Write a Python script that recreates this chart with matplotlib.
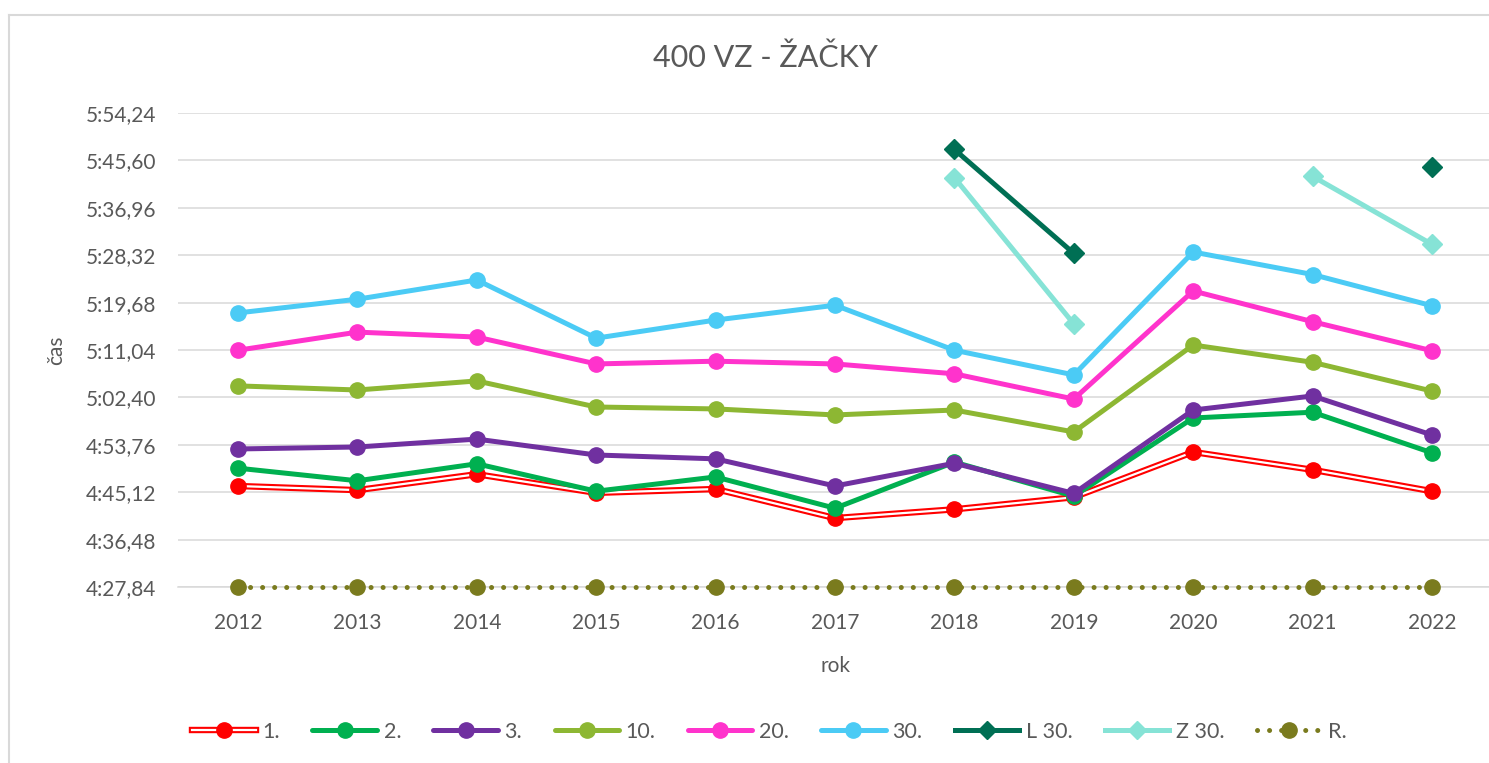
import matplotlib.pyplot as plt
from matplotlib.lines import Line2D
from matplotlib.legend_handler import HandlerTuple
import numpy as np

plt.rcParams['font.family'] = ['Lato', 'DejaVu Sans']

roky = ['2012', '2013', '2014', '2015', '2016', '2017', '2018', '2019', '2020', '2021', '2022']

# casy v sekundach
s1 = [286.25, 285.5, 288.4, 285.0, 285.7, 280.4, 282.0, 284.2, 292.45, 289.2, 285.3]
s2 = [289.5, 287.2, 290.3, 285.3, 287.9, 282.2, 290.6, 284.4, 298.65, 299.7, 292.3]
s3 = [293.0, 293.36, 294.8, 291.9, 291.2, 286.25, 290.4, 284.9, 300.1, 302.66, 295.55]
s10 = [304.5, 303.75, 305.4, 300.65, 300.3, 299.2, 300.1, 296.1, 311.95, 308.8, 303.55]
s20 = [311.0, 314.3, 313.4, 308.5, 309.0, 308.5, 306.7, 302.1, 321.8, 316.2, 310.9]
s30 = [317.8, 320.3, 323.8, 313.2, 316.5, 319.2, 311.0, 306.5, 328.9, 324.8, 319.1]
L30 = [np.nan, np.nan, np.nan, np.nan, np.nan, np.nan, 347.6, 328.65, np.nan, np.nan, 344.45]
Z30 = [np.nan, np.nan, np.nan, np.nan, np.nan, np.nan, 342.45, 315.8, np.nan, 342.7, 330.3]
R = [267.84, 267.84, 267.84, 267.84, 267.84, 267.84, 267.84, 267.84, 267.84, 267.84, 267.84]

y_ticky = [267.84, 276.48, 285.12, 293.76, 302.40, 311.04, 319.68, 328.32, 336.96, 345.60, 354.24]

sedy = '#595959'


def cas(v):
	m = int(v // 60)
	s = v - 60 * m
	return f'{m}:{s:05.2f}'.replace('.', ',')


fig = plt.figure(figsize=(14.89, 7.63), dpi=100)
ax = fig.add_axes([178.3 / 1489, 1 - 587 / 763, 1313.4 / 1489, 474 / 763])

x = np.arange(len(roky))
lw = 3.6
ms = 11

# 1. - dvojita cervena ciara
ax.plot(x, s1, color='#FF0000', lw=4.6, solid_capstyle='round', zorder=3)
ax.plot(x, s1, color='white', lw=1.6, solid_capstyle='round', zorder=3)
ax.plot(x, s1, 'o', color='#FF0000', ms=ms, zorder=3)

serie = [
	(s2, '#00B050', 'o'),
	(s3, '#7030A0', 'o'),
	(s10, '#8DB733', 'o'),
	(s20, '#FF33CC', 'o'),
	(s30, '#4BCBF5', 'o'),
]
for y, c, m in serie:
	ax.plot(x, y, color=c, lw=lw, marker=m, ms=ms, solid_capstyle='round', zorder=3)

ax.plot(x, L30, color='#006F54', lw=lw, marker='D', ms=10, zorder=3)
ax.plot(x, Z30, color='#86E3D6', lw=lw, marker='D', ms=10, zorder=3)
ax.plot(x, R, color='#7A7B1E', lw=lw, linestyle=(0, (0.01, 2.4)), dash_capstyle='round',
		marker='o', ms=11, zorder=3, clip_on=False)

ax.set_xlim(-0.5, len(roky) - 0.5)
ax.set_ylim(267.84, 354.24)
ax.set_yticks(y_ticky)
ax.set_yticklabels([cas(v) for v in y_ticky])
ax.set_xticks(x)
ax.set_xticklabels(roky)
ax.grid(axis='y', color='#D9D9D9', lw=1.1, zorder=0)
for s in ['top', 'right', 'left']:
	ax.spines[s].set_visible(False)
ax.spines['bottom'].set_color('#D9D9D9')
ax.spines['bottom'].set_linewidth(1.1)
ax.spines['bottom'].set_zorder(0)
ax.tick_params(axis='both', length=0, labelsize=15, labelcolor=sedy)
ax.tick_params(axis='y', pad=16)
ax.tick_params(axis='x', pad=19)
ax.set_xlabel('rok', fontsize=15, color=sedy, labelpad=16)
ax.set_ylabel('čas', fontsize=15, color=sedy, labelpad=14)

fig.text(765 / 1489, 1 - 58 / 763, '400 VZ - ŽAČKY', ha='center', va='center', fontsize=22, color=sedy)

# ram grafu
fig.add_artist(Line2D([9 / 1489, 9 / 1489], [0, 1 - 15 / 763], color='#D9D9D9', lw=1.5, transform=fig.transFigure))
fig.add_artist(Line2D([9 / 1489, 1], [1 - 15 / 763, 1 - 15 / 763], color='#D9D9D9', lw=1.5, transform=fig.transFigure))

# legenda
h1 = (Line2D([], [], color='#FF0000', lw=4.6), Line2D([], [], color='white', lw=1.6),
	  Line2D([], [], color='#FF0000', marker='o', ms=ms, ls='none'))
handles = [h1]
for y, c, m in serie:
	handles.append(Line2D([], [], color=c, lw=lw, marker=m, ms=ms, solid_capstyle='round'))
handles.append(Line2D([], [], color='#006F54', lw=lw, marker='D', ms=9))
handles.append(Line2D([], [], color='#86E3D6', lw=lw, marker='D', ms=9))
handles.append(Line2D([], [], color='#7A7B1E', lw=lw, linestyle=(0, (0.01, 2.4)), dash_capstyle='round',
					  marker='o', ms=11))
labels = ['1.', '2.', '3.', '10.', '20.', '30.', 'L 30.', 'Z 30.', 'R.']
leg = fig.legend(handles, labels, loc='center', bbox_to_anchor=(769 / 1489, 1 - 732 / 763), ncol=9,
				 frameon=False, fontsize=15.5, handlelength=3.0, handletextpad=0.3, columnspacing=1.5,
				 handler_map={tuple: HandlerTuple(ndivide=1)})
for t in leg.get_texts():
	t.set_color(sedy)

fig.savefig('out.png', dpi=100)
